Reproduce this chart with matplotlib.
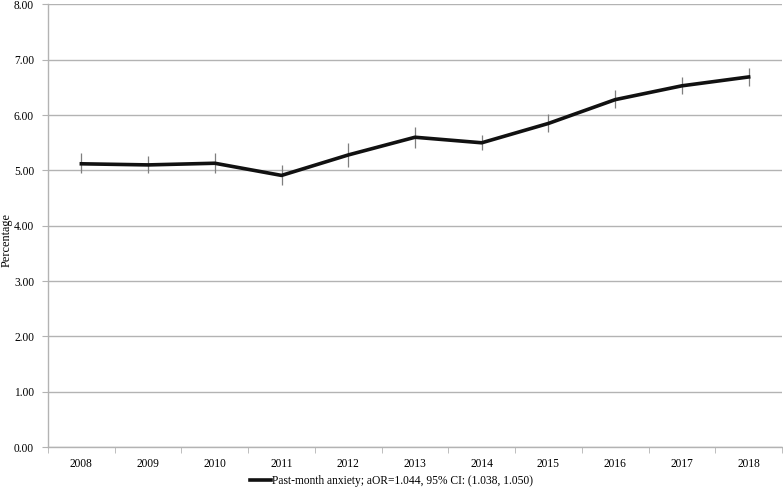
import numpy as np
import matplotlib.pyplot as plt

plt.rcParams['font.family'] = ['Liberation Serif', 'DejaVu Serif']

years = ['2008', '2009', '2010', '2011', '2012', '2013', '2014', '2015', '2016', '2017', '2018']
pct = [5.12, 5.10, 5.13, 4.91, 5.28, 5.60, 5.50, 5.85, 6.28, 6.53, 6.69]
ci_low = [4.95, 4.96, 4.96, 4.74, 5.07, 5.40, 5.37, 5.70, 6.12, 6.38, 6.53]
ci_high = [5.31, 5.26, 5.32, 5.10, 5.49, 5.79, 5.64, 6.02, 6.46, 6.69, 6.85]
label = 'Past-month anxiety; aOR=1.044, 95% CI: (1.038, 1.050)'

x = np.arange(len(years))
pct = np.array(pct)
err = [pct - np.array(ci_low), np.array(ci_high) - pct]

fig = plt.figure(figsize=(7.83, 4.90), dpi=100)
ax = fig.add_axes([48/783, 43/490, 734/783, 442.5/490])

fs = 8.3
grid_c = '#b3b3b3'
ax.set_ylim(0, 8)
ax.set_yticks(np.arange(0, 9, 1))
ax.set_yticklabels(['%.2f' % v for v in np.arange(0, 9, 1)])
ax.yaxis.grid(True, color=grid_c, linewidth=1)
ax.set_axisbelow(True)

ax.set_xlim(-0.5, len(years) - 0.5)
ax.set_xticks(x)
ax.set_xticklabels(years)
ax.set_xticks(np.arange(-0.5, len(years), 1), minor=True)
ax.tick_params(axis='x', which='major', length=0, pad=8)
ax.tick_params(axis='x', which='minor', length=4, color=grid_c, direction='out')
ax.tick_params(axis='y', length=4, color=grid_c, pad=6)
ax.tick_params(labelsize=fs)

for s in ['top', 'right']:
    ax.spines[s].set_visible(False)
for s in ['left', 'bottom']:
    ax.spines[s].set_color(grid_c)
    ax.spines[s].set_linewidth(1)

ax.errorbar(x, pct, yerr=err, fmt='none', ecolor='#7f7f7f', elinewidth=0.9, capsize=0, zorder=3)
ln, = ax.plot(x, pct, color='#111111', linewidth=2.6, label=label, zorder=4)

fig.text(7/783, 1 - 240/490, 'Percentage', rotation=90, ha='center', va='center', fontsize=fs + 0.5)

fig.legend(handles=[ln], loc='center', bbox_to_anchor=(0.5, 0.018), frameon=False,
           fontsize=fs, handlelength=1.8, handletextpad=0.1, borderpad=0, borderaxespad=0)

plt.savefig('out.png', dpi=100)
